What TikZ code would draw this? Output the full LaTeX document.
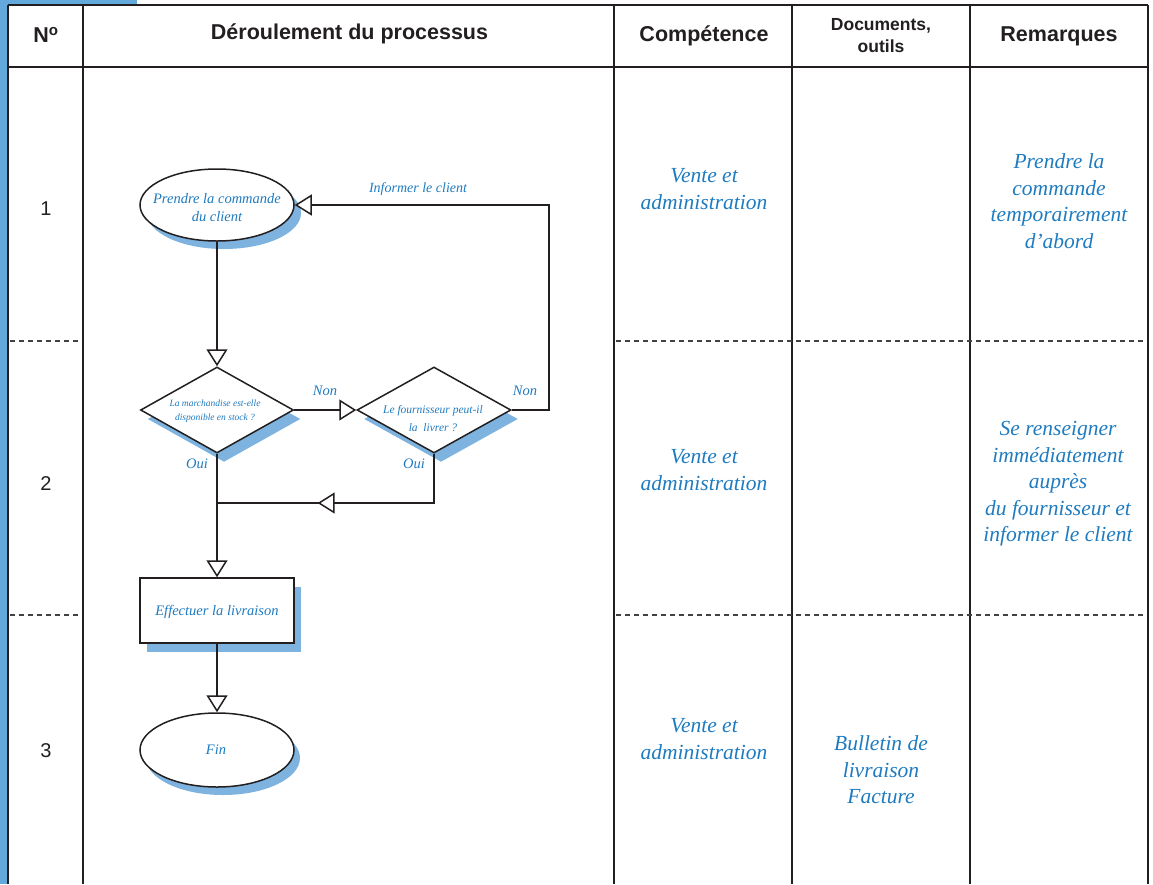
\documentclass[tikz,border=0pt]{standalone}
\usepackage{fontspec}
\setmainfont{Liberation Serif}
\setsansfont{Liberation Sans}
\usetikzlibrary{shapes.geometric,arrows.meta,decorations.markings,shadows}
\definecolor{txtblue}{HTML}{1E7BC0}
\definecolor{shblue}{HTML}{7DB3DE}
\definecolor{stripblue}{HTML}{64A9DC}
\definecolor{ink}{HTML}{231F20}
\begin{document}
\begin{tikzpicture}[x=1pt,y=-1pt,
  tabline/.style={draw=ink,line width=1.8pt},
  dashline/.style={draw=ink!85,line width=1.5pt,dash pattern=on 5pt off 4pt},
  headtxt/.style={font=\sffamily\bfseries\fontsize{21.5}{24}\selectfont,text=ink},
  numtxt/.style={font=\sffamily\fontsize{20}{24}\selectfont,text=ink},
  handtxt/.style={font=\itshape\fontsize{21.5}{26.5}\selectfont,text=txtblue,align=center},
  flowtxt/.style={font=\itshape\fontsize{14.5}{18}\selectfont,text=txtblue,align=center},
  tinytxt/.style={font=\itshape\fontsize{9.5}{14}\selectfont,text=txtblue,align=center},
  shapeline/.style={draw=ink,line width=1.5pt,fill=white,inner sep=0pt},
  shd/.style={drop shadow={shadow xshift=#1pt,shadow yshift=-8pt,fill=shblue,opacity=1}},
  shdd/.style={drop shadow={shadow xshift=7pt,shadow yshift=-9pt,fill=shblue,opacity=1}},
  conn/.style={draw=ink,line width=1.5pt,-{Triangle[open,fill=white,length=17pt,width=21pt]}},
  plainconn/.style={draw=ink,line width=1.5pt},
]
\useasboundingbox (0,0) rectangle (1153,884);
% blue strips
\fill[stripblue] (0,0) rectangle (7.2,884);
\fill[stripblue] (0,0) rectangle (137,4.5);
% table
\draw[tabline] (8,5) -- (1148,5);
\draw[tabline] (8,67) -- (1148,67);
\foreach \xx in {8,83,614,792,970,1148} \draw[tabline] (\xx,5) -- (\xx,884);
\draw[dashline] (10,341) -- (82,341);
\draw[dashline] (616,341) -- (1147,341);
\draw[dashline] (10,615) -- (82,615);
\draw[dashline] (616,615) -- (1147,615);
% header
\node[headtxt] (hno) at (46,35) {N\textsuperscript{o}};
\node[headtxt] (hder) at (349.5,33.5) {Déroulement du processus};
\node[headtxt] (hcomp) at (704,36) {Compétence};
\node[headtxt,font=\sffamily\bfseries\fontsize{17.5}{22}\selectfont,align=center] (hdoc) at (881,36) {Documents,\\outils};
\node[headtxt] (hrem) at (1059,36) {Remarques};
% row numbers
\node[numtxt] (n1) at (46,209) {1};
\node[numtxt] (n2) at (46,484) {2};
\node[numtxt] (n3) at (46,751) {3};
% competence
\node[handtxt] (c1) at (704,189) {Vente et\\administration};
\node[handtxt] (c2) at (704,470) {Vente et\\administration};
\node[handtxt] (c3) at (704,739) {Vente et\\administration};
% documents
\node[handtxt] (doc3) at (881,770) {Bulletin de\\livraison\\Facture};
% remarks
\node[handtxt] (r1) at (1059,201) {Prendre la\\commande\\temporairement\\d'abord};
\node[handtxt] (r2) at (1058,484) {Se renseigner\\immédiatement\\auprès\\du fournisseur et\\informer le client};
% flowchart shapes
\node[shapeline,ellipse,minimum width=154pt,minimum height=72pt,shd=7] (e1) at (217,205) {};
\node[shapeline,diamond,minimum width=153pt,minimum height=86pt,shdd] (d1) at (217,410) {};
\node[shapeline,diamond,minimum width=154pt,minimum height=86pt,shdd] (d2) at (434,410) {};
\node[shapeline,rectangle,minimum width=154pt,minimum height=65pt,shdd] (rb) at (217,610.5) {};
\node[shapeline,ellipse,minimum width=154pt,minimum height=74pt,shd=6] (fin) at (217,750) {};
% texts in shapes
\node[flowtxt] (te1) at (217,208) {Prendre la commande\\du client};
\node[tinytxt] (td1) at (215,411) {La marchandise est-elle\\disponible en stock ?};
\node[flowtxt,font=\itshape\fontsize{11.5}{18}\selectfont] (td2) at (433,419) {Le fournisseur peut-il\\la~~livrer ?};
\node[flowtxt] (trb) at (217,612) {Effectuer la livraison};
\node[flowtxt] (tfin) at (216,750) {Fin};
% connectors
\coordinate (j) at (217,503);
\draw[conn] (e1.south) -- (d1.north);
\draw[conn] (d1.east) -- (d2.west);
\draw[conn] (d2.east) -- ++(37,0) |- (e1.east);
\draw[plainconn,postaction={decorate},decoration={markings,mark=at position 0.622 with {\arrow{Triangle[open,fill=white,length=17pt,width=21pt]}}}] (d2.south) |- (j);
\draw[conn] (d1.south) -- (rb.north);
\draw[conn] (rb.south) -- (fin.north);
% connector labels
\node[flowtxt] (lnon1) at (325,391) {Non};
\node[flowtxt] (lnon2) at (525,391) {Non};
\node[flowtxt] (loui1) at (197,464) {Oui};
\node[flowtxt] (loui2) at (414,464) {Oui};
\node[flowtxt,font=\itshape\fontsize{14}{18}\selectfont] (linf) at (418,189) {Informer le client};
\end{tikzpicture}
\end{document}
